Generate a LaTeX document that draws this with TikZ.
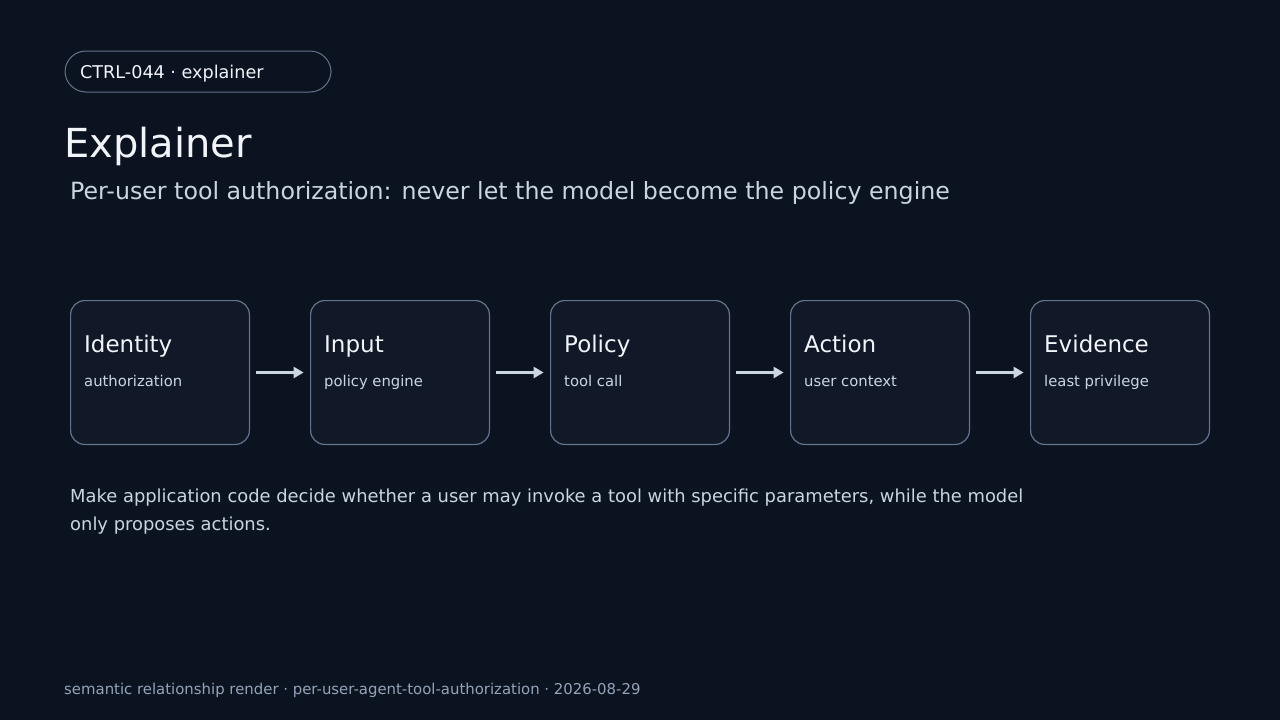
\documentclass[tikz,border=0pt]{standalone}
\usepackage{fontspec}
\setmainfont{DejaVu Sans}
\usetikzlibrary{positioning,arrows.meta}
\definecolor{bgc}{HTML}{0B1220}
\definecolor{boxc}{HTML}{111827}
\definecolor{edgec}{HTML}{64748B}
\definecolor{titc}{HTML}{F1F5F9}
\definecolor{subc}{HTML}{CBD5E1}
\definecolor{footc}{HTML}{94A3B8}
\tikzset{
  stage/.style={draw=edgec,line width=1.2pt,fill=boxc,rounded corners=14pt,
    minimum width=178.8pt,minimum height=143.8pt,inner sep=0pt,outer sep=0pt},
  stagetitle/.style={anchor=base west,text=titc,font=\fontsize{23}{27}\selectfont,inner sep=0pt},
  stagesub/.style={anchor=base west,text=subc,font=\fontsize{14.8}{17}\selectfont,inner sep=0pt},
  flow/.style={draw=subc,line width=3pt,-{Triangle[length=10pt,width=11pt]}}
}
\begin{document}
\begin{tikzpicture}[x=1pt,y=-1pt,node distance=61.2pt]
  \fill[bgc] (0,0) rectangle (1280,720);
  \useasboundingbox (0,0) rectangle (1280,720);
  % header
  \node[draw=edgec,line width=1pt,rounded corners=21pt,minimum width=266pt,minimum height=41pt,
    anchor=north west,inner sep=0pt] (pill) at (64.5,50.5) {};
  \node[anchor=base west,inner sep=0pt,text=titc,font=\fontsize{17.6}{20}\selectfont] (tag) at (80,78) {CTRL-044 · explainer};
  \node[anchor=base west,inner sep=0pt,text=titc,font=\fontsize{40}{46}\selectfont] (title) at (64,157) {Explainer};
  \node[anchor=base west,inner sep=0pt,text=subc,font=\fontsize{23.7}{26}\selectfont] (subtitle) at (70,199) {Per-user tool authorization: never let the model become the policy engine};
  % stages
  \node[stage,anchor=north west] (identity) at (70.6,300.6) {};
  \node[stage,right=of identity] (input) {};
  \node[stage,right=of input] (policy) {};
  \node[stage,right=of policy] (action) {};
  \node[stage,right=of action] (evidence) {};
  \foreach \n/\t/\s in {identity/Identity/authorization,input/Input/policy engine,
      policy/Policy/tool call,action/Action/user context,evidence/Evidence/least privilege}{
    \node[stagetitle] at ([xshift=13.4pt,yshift=-51.4pt]\n.north west) {\t};
    \node[stagesub] at ([xshift=13.4pt,yshift=-85.4pt]\n.north west) {\s};
  }
  \foreach \a/\b in {identity/input,input/policy,policy/action,action/evidence}
    \draw[flow] ([xshift=7pt]\a.east) -- ([xshift=-7pt]\b.west);
  % note
  \node[anchor=base west,inner sep=0pt,text=subc,font=\fontsize{17.9}{21}\selectfont] (note) at (70,502)
    {Make application code decide whether a user may invoke a tool with specific parameters, while the model};
  \node[anchor=base west,inner sep=0pt,text=subc,font=\fontsize{17.9}{21}\selectfont] (note2) at (70,530)
    {only proposes actions.};
  \node[anchor=base west,inner sep=0pt,text=footc,font=\fontsize{14.9}{17}\selectfont] (foot) at (64,694)
    {semantic relationship render · per-user-agent-tool-authorization · 2026-08-29};
\end{tikzpicture}
\end{document}
